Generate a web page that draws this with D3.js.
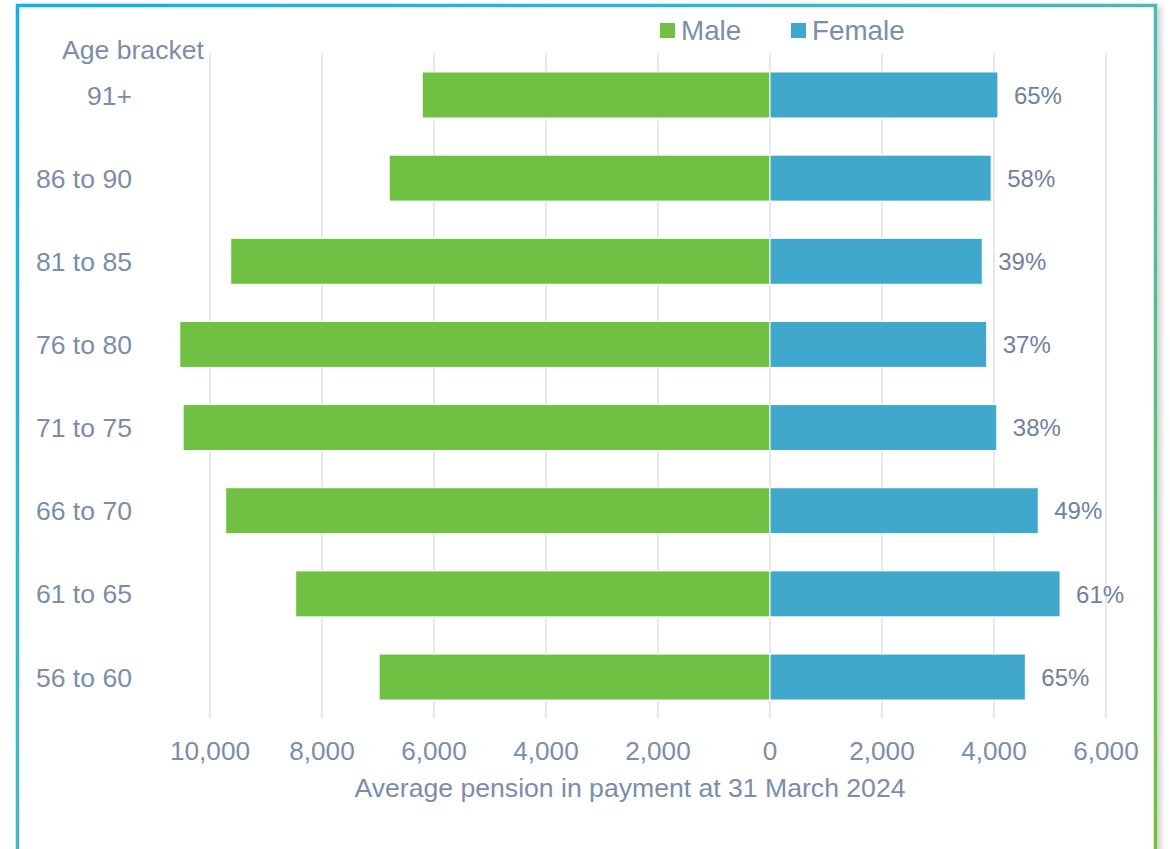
<!DOCTYPE html>
<html>
<head>
<meta charset="utf-8">
<script src="https://cdn.jsdelivr.net/npm/d3@7"></script>
<style>
  html, body { margin: 0; padding: 0; background: #ffffff; }
  svg { display: block; font-family: "Liberation Sans", Arial, sans-serif; }
</style>
</head>
<body>
<svg id="chart" width="1170" height="849"></svg>
<script>
const categories = ["91+", "86 to 90", "81 to 85", "76 to 80", "71 to 75", "66 to 70", "61 to 65", "56 to 60"];
const maleValues = [6210, 6800, 9630, 10540, 10480, 9720, 8470, 6980];
const femaleValues = [4070, 3950, 3790, 3870, 4050, 4790, 5180, 4560];
const femaleShareLabels = ["65%", "58%", "39%", "37%", "38%", "49%", "61%", "65%"];
const tickValues = [-10000, -8000, -6000, -4000, -2000, 0, 2000, 4000, 6000];
const seriesNames = ["Male", "Female"];
const axisTitle = "Average pension in payment at 31 March 2024";
const categoryTitle = "Age bracket";

const colors = { Male: "#70c043", Female: "#40a8cc" };
const textColor = "#7a8ea9";
const gridColor = "#dce2e9";

const svg = d3.select("#chart");
const defs = svg.append("defs");

const grad = defs.append("linearGradient")
  .attr("id", "frameGrad")
  .attr("x1", "0").attr("y1", "0").attr("x2", "1").attr("y2", "1");
grad.append("stop").attr("offset", "0").attr("stop-color", "#12b0e8");
grad.append("stop").attr("offset", "0.5").attr("stop-color", "#4bb9b8");
grad.append("stop").attr("offset", "1").attr("stop-color", "#73c22c");

const shadow = defs.append("filter").attr("id", "shadow")
  .attr("x", "-5%").attr("y", "-5%").attr("width", "110%").attr("height", "110%");
shadow.append("feDropShadow").attr("dx", 4).attr("dy", 2).attr("stdDeviation", 3)
  .attr("flood-color", "#000").attr("flood-opacity", 0.18);

// frame
svg.append("rect")
  .attr("x", 17.5).attr("y", 5.5)
  .attr("width", 1138).attr("height", 880)
  .attr("fill", "#ffffff")
  .attr("stroke", "url(#frameGrad)")
  .attr("stroke-width", 3.5)
  .attr("filter", "url(#shadow)");

const x = d3.scaleLinear().domain([-10000, 6000]).range([210, 1106]);
const y = d3.scaleBand().domain(categories)
  .range([53.4, 718.6])
  .paddingInner(0.447).paddingOuter(0.2235);

// gridlines
svg.append("g").selectAll("line")
  .data(tickValues)
  .join("line")
  .attr("x1", d => x(d)).attr("x2", d => x(d))
  .attr("y1", 53).attr("y2", 718.6)
  .attr("stroke", gridColor).attr("stroke-width", 1.5);

// bars
const rows = categories.map((c, i) => ({ c, m: maleValues[i], f: femaleValues[i], lab: femaleShareLabels[i] }));

svg.append("g").selectAll("rect")
  .data(rows)
  .join("rect")
  .attr("x", d => x(-d.m))
  .attr("y", d => y(d.c))
  .attr("width", d => x(0) - x(-d.m))
  .attr("height", y.bandwidth())
  .attr("fill", colors.Male)
  .attr("stroke", "#ffffff").attr("stroke-width", 1);

svg.append("g").selectAll("rect")
  .data(rows)
  .join("rect")
  .attr("x", x(0))
  .attr("y", d => y(d.c))
  .attr("width", d => x(d.f) - x(0))
  .attr("height", y.bandwidth())
  .attr("fill", colors.Female)
  .attr("stroke", "#ffffff").attr("stroke-width", 1);

// percentage labels
svg.append("g").selectAll("text")
  .data(rows)
  .join("text")
  .attr("x", d => x(d.f) + 16)
  .attr("y", d => y(d.c) + y.bandwidth() / 2)
  .attr("dy", "0.36em")
  .attr("font-size", 24)
  .attr("fill", "#6e829d")
  .text(d => d.lab);

// category axis labels
svg.append("g").selectAll("text")
  .data(categories)
  .join("text")
  .attr("x", 132)
  .attr("y", d => y(d) + y.bandwidth() / 2)
  .attr("dy", "0.36em")
  .attr("text-anchor", "end")
  .attr("font-size", 26.6)
  .attr("fill", textColor)
  .text(d => d);

svg.append("text")
  .attr("x", 62).attr("y", 58.5)
  .attr("font-size", 26.6)
  .attr("fill", textColor)
  .text(categoryTitle);

// x axis tick labels
const fmt = d3.format(",");
svg.append("g").selectAll("text")
  .data(tickValues)
  .join("text")
  .attr("x", d => x(d))
  .attr("y", 760)
  .attr("text-anchor", "middle")
  .attr("font-size", 26.2)
  .attr("fill", textColor)
  .text(d => fmt(Math.abs(d)));

svg.append("text")
  .attr("x", 630).attr("y", 797)
  .attr("text-anchor", "middle")
  .attr("font-size", 26.6)
  .attr("fill", textColor)
  .text(axisTitle);

// legend
const legendPos = [{ name: seriesNames[0], x: 660 }, { name: seriesNames[1], x: 791 }];
const lg = svg.append("g").selectAll("g").data(legendPos).join("g");
lg.append("rect")
  .attr("x", d => d.x).attr("y", 23)
  .attr("width", 15).attr("height", 15)
  .attr("fill", d => colors[d.name]);
lg.append("text")
  .attr("x", d => d.x + 21).attr("y", 39.5)
  .attr("font-size", 27.8)
  .attr("fill", textColor)
  .text(d => d.name);
</script>
</body>
</html>
